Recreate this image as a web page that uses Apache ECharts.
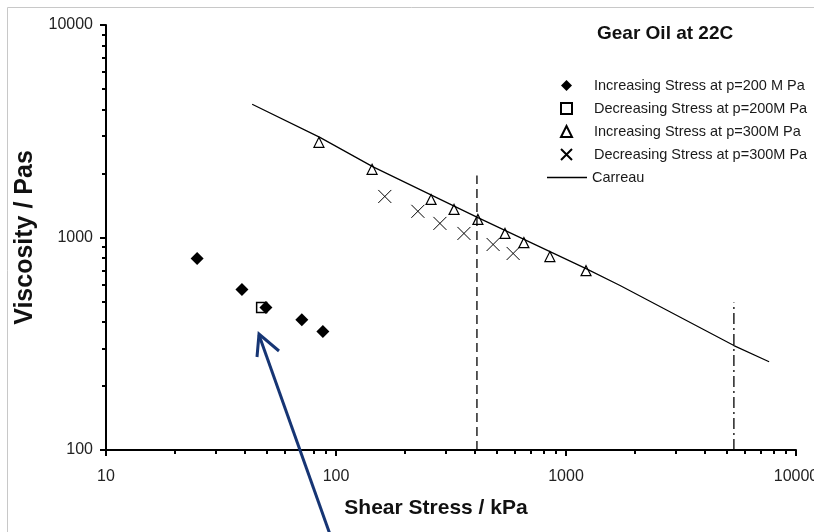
<!DOCTYPE html>
<html>
<head>
<meta charset="utf-8">
<script src="https://cdn.jsdelivr.net/npm/echarts@6/dist/echarts.min.js"></script>
<style>html,body{margin:0;padding:0;background:#fff}#c{width:814px;height:532px}</style>
</head>
<body>
<div id="c"></div>
<script>
// ---- data ----
const titleText = 'Gear Oil at 22C';
const xName = 'Shear Stress / kPa';
const yName = 'Viscosity / Pas';
const xMajorTicks = [10, 100, 1000, 10000];
const yMajorTicks = [100, 1000, 10000];
const xMinorTicks = [20,30,40,50,60,70,80,90,200,300,400,500,600,700,800,900,2000,3000,4000,5000,6000,7000,8000,9000];
const yMinorTicks = [200,300,400,500,600,700,800,900,2000,3000,4000,5000,6000,7000,8000,9000];
const seriesNames = ['Increasing Stress at p=200 M Pa','Decreasing Stress at p=200M Pa','Increasing Stress at p=300M Pa','Decreasing Stress at p=300M Pa','Carreau'];
const inc200 = [[24.9,796],[39,569],[49.6,468],[71,410],[87.7,361]];
const dec200 = [[47.5,468]];
const inc300 = [[84.3,2805],[143.5,2093],[259,1510],[326,1356],[414,1216],[543,1045],[656,946],[851,813],[1222,698]];
const dec300 = [[163,1560],[227,1328],[283,1165],[360,1045],[482,927],[589,841]];
const carreau = [[43.2,4240],[85.1,2960],[145,2150],[414,1240],[1222,714],[1718,594],[5370,310],[7640,260]];
const vDash = [[410,100],[410,1960]];
const vDashDot = [[5370,100],[5370,495]];

const FONT = '"Liberation Sans", Arial, sans-serif';
const fmt = v => String(Math.round(v));
const legendText = {fontFamily: FONT, fontSize: 14.5, color: '#1a1a1a', lineHeight: 15};

const chart = echarts.init(document.getElementById('c'), null, {renderer:'canvas'});
const option = {
  animation: false,
  backgroundColor: '#fff',
  title: {
    text: titleText, left: 592, top: 19,
    textStyle: {fontFamily: FONT, fontSize: 19, fontWeight: 'bold', color: '#111'}
  },
  legend: [{
    data: seriesNames.slice(0, 4),
    orient: 'vertical', left: 560, top: 78, padding: 0,
    itemWidth: 11, itemHeight: 11, itemGap: 8,
    textStyle: Object.assign({padding: [0, 0, 0, 17]}, legendText),
    selectedMode: false
  }, {
    data: [{name: seriesNames[4], icon: 'rect'}],
    orient: 'vertical', left: 547, top: 170, padding: 0,
    itemWidth: 40, itemHeight: 1.3,
    textStyle: legendText,
    itemStyle: {color: '#000'},
    selectedMode: false
  }],
  grid: {left: 106, right: 18, top: 25, bottom: 82, containLabel: false, outerBoundsMode: 'none'},
  xAxis: [{
    type: 'log', logBase: 10, min: 10, max: 10000,
    name: xName, nameLocation: 'middle', nameGap: 48,
    nameTextStyle: {fontFamily: FONT, fontSize: 21, fontWeight: 'bold', color: '#111', padding: [0, 30, 0, 0]},
    axisLine: {show: true, lineStyle: {color: '#000', width: 2}},
    axisTick: {show: true, length: 6, inside: false, lineStyle: {color: '#000', width: 2}, customValues: xMajorTicks},
    axisLabel: {show: true, margin: 19, fontFamily: FONT, fontSize: 16, color: '#222', formatter: fmt, customValues: xMajorTicks},
    splitLine: {show: false}, minorTick: {show: false}
  }, {
    type: 'log', logBase: 10, min: 10, max: 10000, position: 'bottom', gridIndex: 0,
    axisLine: {show: false},
    axisTick: {show: true, length: 4, lineStyle: {color: '#000', width: 2}, customValues: xMinorTicks},
    axisLabel: {show: false}, splitLine: {show: false}
  }],
  yAxis: [{
    type: 'log', logBase: 10, min: 100, max: 10000,
    name: yName, nameLocation: 'middle', nameGap: 67,
    nameTextStyle: {fontFamily: FONT, fontSize: 25, fontWeight: 'bold', color: '#111'},
    axisLine: {show: true, lineStyle: {color: '#000', width: 2}},
    axisTick: {show: true, length: 6, lineStyle: {color: '#000', width: 2}, customValues: yMajorTicks},
    axisLabel: {show: true, margin: 13, fontFamily: FONT, fontSize: 16, color: '#222', formatter: fmt, customValues: yMajorTicks},
    splitLine: {show: false}
  }, {
    type: 'log', logBase: 10, min: 100, max: 10000, position: 'left', gridIndex: 0,
    axisLine: {show: false},
    axisTick: {show: true, length: 4, lineStyle: {color: '#000', width: 2}, customValues: yMinorTicks},
    axisLabel: {show: false}, splitLine: {show: false}
  }],
  series: [
    {name: seriesNames[0], type: 'scatter', data: inc200, symbol: 'diamond', symbolSize: 13,
     itemStyle: {color: '#000', opacity: 1}, z: 5},
    {name: seriesNames[1], type: 'scatter', data: dec200, symbol: 'rect', symbolSize: 10,
     itemStyle: {color: 'rgba(255,255,255,0)', borderColor: '#000', borderWidth: 1.5, opacity: 1}, z: 4},
    {name: seriesNames[2], type: 'scatter', data: inc300, symbol: 'triangle', symbolSize: [10, 10],
     itemStyle: {color: 'rgba(255,255,255,0)', borderColor: '#000', borderWidth: 1.2, opacity: 1}, z: 5},
    {name: seriesNames[3], type: 'scatter', data: dec300, symbol: 'path://M0,0L10,10M0,10L10,0', symbolSize: 13,
     itemStyle: {color: 'rgba(255,255,255,0)', borderColor: '#000', borderWidth: 1, opacity: 1}, z: 5},
    {name: seriesNames[4], type: 'line', data: carreau, symbol: 'none', showSymbol: false, smooth: false,
     lineStyle: {color: '#000', width: 1.2}, itemStyle: {color: '#000'}, z: 3},
    {name: 'vdash', type: 'line', data: vDash, symbol: 'none', silent: true,
     lineStyle: {color: '#000', width: 1.3, type: [9, 5]}, z: 2},
    {name: 'vdashdot', type: 'line', data: vDashDot, symbol: 'none', silent: true,
     lineStyle: {color: '#000', width: 1.3, type: [11, 4, 2, 4]}, z: 2}
  ],
  graphic: [
    {type: 'rect', shape: {x: 7.5, y: 7.5, width: 900, height: 700}, style: {fill: 'none', stroke: '#c8c8c8', lineWidth: 1}, z: -1, silent: true},
    {type: 'polyline', shape: {points: [[332, 540], [259, 335]]}, style: {stroke: '#163574', lineWidth: 3, fill: null}, z: 10},
    {type: 'polyline', shape: {points: [[279, 351], [259, 334], [257, 357]]}, style: {stroke: '#163574', lineWidth: 3, fill: null, lineJoin: 'miter'}, z: 10}
  ]
};
chart.setOption(option);
</script>
</body>
</html>
